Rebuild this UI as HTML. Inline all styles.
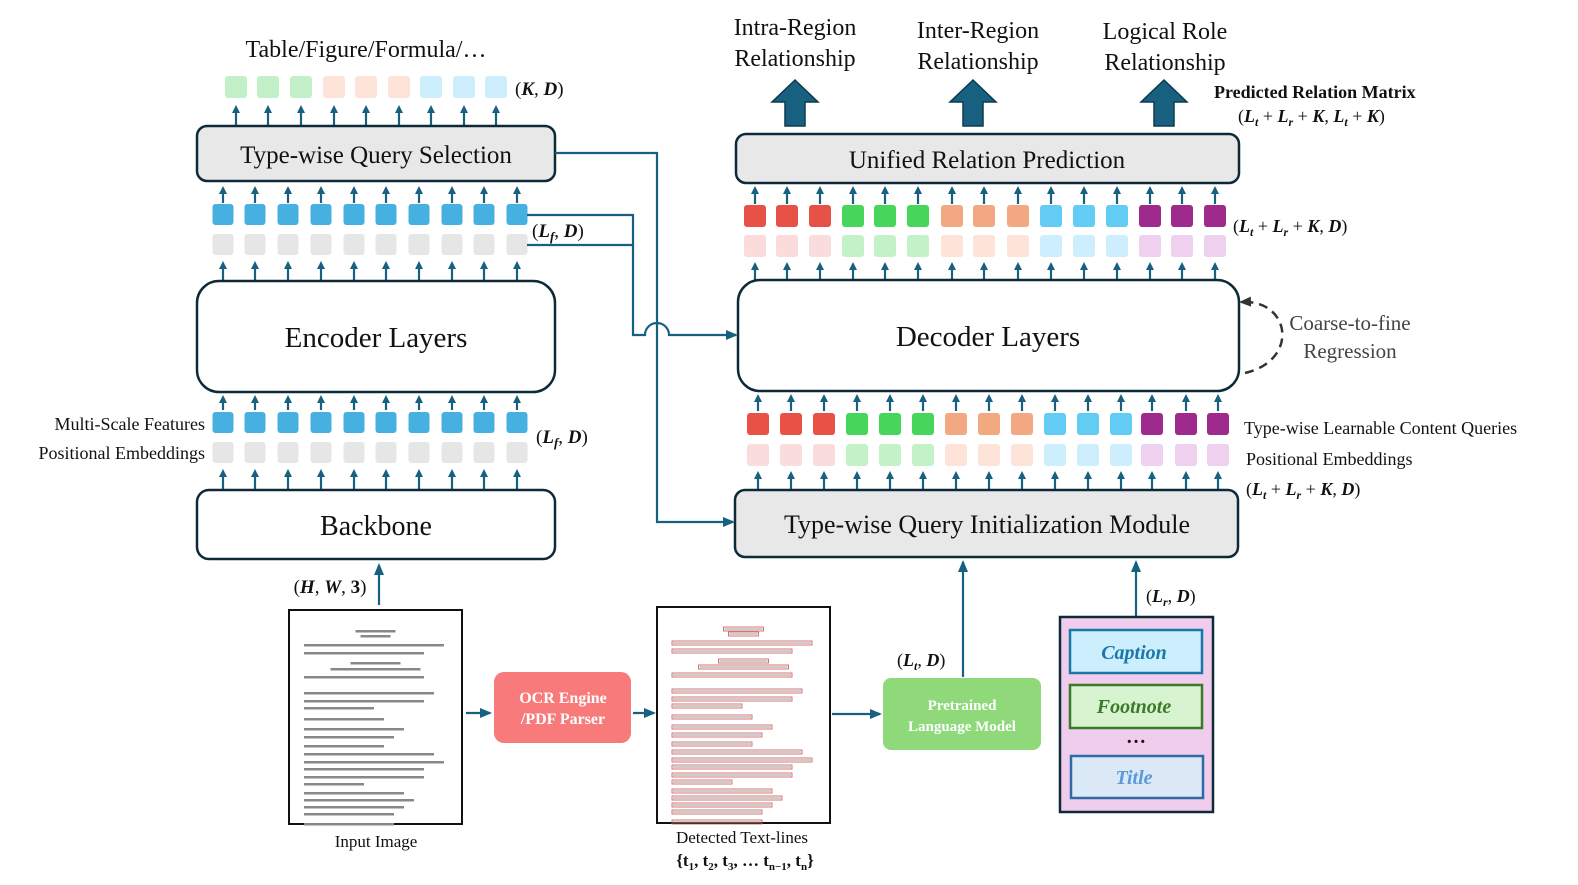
<!DOCTYPE html>
<html><head><meta charset="utf-8"><style>
body{margin:0;background:#fff}
svg{display:block}
text{font-family:"Liberation Serif",serif;fill:#111}
.m{font-weight:bold;font-style:italic}
</style></head><body>
<svg id="s" width="1578" height="885" viewBox="0 0 1578 885" xmlns="http://www.w3.org/2000/svg">
<defs>
<marker id="ah" markerWidth="8" markerHeight="8" refX="5" refY="4" orient="auto" markerUnits="userSpaceOnUse"><path d="M0,0 L8,4 L0,8 z" fill="#17607f"/></marker>
<marker id="ah2" markerWidth="12" markerHeight="10" refX="10" refY="5" orient="auto" markerUnits="userSpaceOnUse"><path d="M0,0 L12,5 L0,10 z" fill="#17607f"/></marker>
<marker id="ad" markerWidth="12" markerHeight="10" refX="8" refY="5" orient="auto" markerUnits="userSpaceOnUse"><path d="M0,0 L12,5 L0,10 z" fill="#333"/></marker>
</defs>
<g id="g"></g>
<!-- boxes -->
<rect x="197" y="126" width="358" height="55" rx="10" fill="#e8e8e8" stroke="#0e2a38" stroke-width="2.5"/>
<text x="376" y="163" font-size="25" text-anchor="middle">Type-wise Query Selection</text>
<rect x="197" y="281" width="358" height="111" rx="22" fill="#fff" stroke="#0e2a38" stroke-width="2.5"/>
<text x="376" y="347" font-size="29" text-anchor="middle">Encoder Layers</text>
<rect x="197" y="490" width="358" height="69" rx="12" fill="#fff" stroke="#0e2a38" stroke-width="2.5"/>
<text x="376" y="535" font-size="28" text-anchor="middle">Backbone</text>
<rect x="736" y="134" width="503" height="49" rx="10" fill="#e8e8e8" stroke="#0e2a38" stroke-width="2.5"/>
<text x="987" y="168" font-size="25" text-anchor="middle">Unified Relation Prediction</text>
<rect x="738" y="280" width="501" height="111" rx="22" fill="#fff" stroke="#0e2a38" stroke-width="2.5"/>
<text x="988" y="346" font-size="29" text-anchor="middle">Decoder Layers</text>
<rect x="735" y="490" width="503" height="67" rx="10" fill="#e8e8e8" stroke="#0e2a38" stroke-width="2.5"/>
<text x="987" y="533" font-size="26" text-anchor="middle">Type-wise Query Initialization Module</text>
<!-- text labels -->
<text x="366" y="57" font-size="24" text-anchor="middle">Table/Figure/Formula/…</text>
<text x="515" y="95" font-size="19"><tspan>(</tspan><tspan class="m">K</tspan>, <tspan class="m">D</tspan>)</text>
<text x="532" y="237" font-size="19">(<tspan class="m">L</tspan><tspan class="m" font-size="13" dy="4">f</tspan><tspan dy="-4">, </tspan><tspan class="m">D</tspan>)</text>
<text x="536" y="443" font-size="19">(<tspan class="m">L</tspan><tspan class="m" font-size="13" dy="4">f</tspan><tspan dy="-4">, </tspan><tspan class="m">D</tspan>)</text>
<text x="205" y="430" font-size="18" text-anchor="end">Multi-Scale Features</text>
<text x="205" y="459" font-size="18" text-anchor="end">Positional Embeddings</text>
<text x="1244" y="434" font-size="18">Type-wise Learnable Content Queries</text>
<text x="1246" y="465" font-size="18">Positional Embeddings</text>
<text x="1246" y="495" font-size="18">(<tspan class="m">L</tspan><tspan class="m" font-size="12" dy="4">t</tspan><tspan dy="-4"> + </tspan><tspan class="m">L</tspan><tspan class="m" font-size="12" dy="4">r</tspan><tspan dy="-4"> + </tspan><tspan class="m">K</tspan>, <tspan class="m">D</tspan>)</text>
<text x="1233" y="232" font-size="18">(<tspan class="m">L</tspan><tspan class="m" font-size="12" dy="4">t</tspan><tspan dy="-4"> + </tspan><tspan class="m">L</tspan><tspan class="m" font-size="12" dy="4">r</tspan><tspan dy="-4"> + </tspan><tspan class="m">K</tspan>, <tspan class="m">D</tspan>)</text>
<text x="1214" y="98" font-size="18" font-weight="bold">Predicted Relation Matrix</text>
<text x="1238" y="122" font-size="18">(<tspan class="m">L</tspan><tspan class="m" font-size="12" dy="4">t</tspan><tspan dy="-4"> + </tspan><tspan class="m">L</tspan><tspan class="m" font-size="12" dy="4">r</tspan><tspan dy="-4"> + </tspan><tspan class="m">K</tspan>, <tspan class="m">L</tspan><tspan class="m" font-size="12" dy="4">t</tspan><tspan dy="-4"> + </tspan><tspan class="m">K</tspan>)</text>
<text x="795" y="35" font-size="24" text-anchor="middle">Intra-Region</text>
<text x="795" y="66" font-size="24" text-anchor="middle">Relationship</text>
<text x="978" y="38" font-size="24" text-anchor="middle">Inter-Region</text>
<text x="978" y="69" font-size="24" text-anchor="middle">Relationship</text>
<text x="1165" y="39" font-size="24" text-anchor="middle">Logical Role</text>
<text x="1165" y="70" font-size="24" text-anchor="middle">Relationship</text>
<text x="1350" y="330" font-size="21" text-anchor="middle" fill="#444" style="fill:#444">Coarse-to-fine</text>
<text x="1350" y="358" font-size="21" text-anchor="middle" style="fill:#444">Regression</text>
<path d="M1245,373 C1300,360 1290,300 1243,302" fill="none" stroke="#333" stroke-width="2.5" stroke-dasharray="9,6" marker-end="url(#ad)"/>
<!-- big arrows -->
<g fill="#17607f" stroke="#0e3a4e" stroke-width="1.5">
<path d="M785,126 V102 H772 L795,80 L818,102 H805 V126 Z"/>
<path d="M963,126 V102 H950 L973,80 L996,102 H983 V126 Z"/>
<path d="M1154,126 V102 H1141 L1164,80 L1187,102 H1174 V126 Z"/>
</g>
<!-- connectors -->
<g fill="none" stroke="#17607f" stroke-width="2.2">
<path d="M555,153 H657 V522 H733" marker-end="url(#ah2)"/>
<path d="M527,215 H633 V335 H645 A12,12 0 0 1 669,335 H736" marker-end="url(#ah2)"/>
<path d="M527,245 H633"/>
<path d="M379,605 V565" marker-end="url(#ah2)"/>
<path d="M466,713 H490" marker-end="url(#ah2)"/>
<path d="M633,713 H654" marker-end="url(#ah2)"/>
<path d="M832,714 H880" marker-end="url(#ah2)"/>
<path d="M963,677 V562" marker-end="url(#ah2)"/>
<path d="M1136,617 V562" marker-end="url(#ah2)"/>
</g>
<text x="330" y="593" font-size="19" text-anchor="middle">(<tspan class="m">H</tspan>, <tspan class="m">W</tspan>, <tspan font-weight="bold">3</tspan>)</text>
<text x="897" y="666" font-size="18">(<tspan class="m">L</tspan><tspan class="m" font-size="12" dy="4">t</tspan><tspan dy="-4">, </tspan><tspan class="m">D</tspan>)</text>
<text x="1146" y="602" font-size="18">(<tspan class="m">L</tspan><tspan class="m" font-size="12" dy="4">r</tspan><tspan dy="-4">, </tspan><tspan class="m">D</tspan>)</text>
<!-- documents -->
<rect x="289" y="610" width="173" height="214" fill="#fff" stroke="#111" stroke-width="2"/>
<rect x="657" y="607" width="173" height="216" fill="#fff" stroke="#111" stroke-width="2"/>
<g id="docs"></g>
<text x="376" y="847" font-size="17" text-anchor="middle">Input Image</text>
<text x="742" y="843" font-size="17" text-anchor="middle">Detected Text-lines</text>
<text x="745" y="866" font-size="17" text-anchor="middle" font-weight="bold">{t<tspan font-size="11" dy="4">1</tspan><tspan dy="-4">, t</tspan><tspan font-size="11" dy="4">2</tspan><tspan dy="-4">, t</tspan><tspan font-size="11" dy="4">3</tspan><tspan dy="-4">, … t</tspan><tspan font-size="11" dy="4">n−1</tspan><tspan dy="-4">, t</tspan><tspan font-size="11" dy="4">n</tspan><tspan dy="-4">}</tspan></text>
<rect x="494" y="672" width="137" height="71" rx="10" fill="#f87a7a"/>
<text x="563" y="703" font-size="16" font-weight="bold" text-anchor="middle" style="fill:#fff">OCR Engine</text>
<text x="563" y="724" font-size="16" font-weight="bold" text-anchor="middle" style="fill:#fff">/PDF Parser</text>
<rect x="883" y="678" width="158" height="72" rx="8" fill="#8fd97a"/>
<text x="962" y="710" font-size="15" font-weight="bold" text-anchor="middle" style="fill:#fff">Pretrained</text>
<text x="962" y="731" font-size="15" font-weight="bold" text-anchor="middle" style="fill:#fff">Language Model</text>
<rect x="1060" y="617" width="153" height="195" fill="#f0cdec" stroke="#0e2a38" stroke-width="2.5"/>
<rect x="1070" y="630" width="132" height="43" fill="#cdeefc" stroke="#1a78a8" stroke-width="2.5"/>
<text x="1134" y="659" font-size="20" class="m" text-anchor="middle" style="fill:#1a78a8">Caption</text>
<rect x="1070" y="685" width="132" height="43" fill="#d7f3cf" stroke="#3a7a2a" stroke-width="2.5"/>
<text x="1134" y="713" font-size="20" class="m" text-anchor="middle" style="fill:#3a7a2a">Footnote</text>
<text x="1136" y="743" font-size="20" font-weight="bold" text-anchor="middle">…</text>
<rect x="1071" y="756" width="132" height="42" fill="#dbe8f6" stroke="#2e6aa8" stroke-width="2.5"/>
<text x="1134" y="784" font-size="20" class="m" text-anchor="middle" style="fill:#5a9ad8">Title</text>
</svg>
<script>
var g=document.getElementById('g'),NS='http://www.w3.org/2000/svg',h='';
function sq(x,y,w,c){h+='<rect x="'+(x-w/2)+'" y="'+y+'" width="'+w+'" height="'+w+'" rx="3" fill="'+c+'"/>';}
function ar(x,y1,y2){h+='<line x1="'+x+'" y1="'+y1+'" x2="'+x+'" y2="'+(y2+6)+'" stroke="#17607f" stroke-width="2.2" marker-end="url(#ah)"/>';}
var L=[223,255,288,321,354,386,419,452,484,517];
L.forEach(function(x){sq(x,204,21,'#46b0e0');sq(x,234,21,'#e6e6e6');ar(x,203,183);ar(x,281,258);
sq(x,412,21,'#46b0e0');sq(x,442,21,'#e6e6e6');ar(x,410,392);ar(x,490,466);});
var T=[236,268,301,334,366,399,431,464,496],tc=['#c3f0c8','#c3f0c8','#c3f0c8','#fde3d8','#fde3d8','#fde3d8','#cdeefc','#cdeefc','#cdeefc'];
T.forEach(function(x,i){sq(x,76,22,tc[i]);ar(x,126,102);});
var c1=['#e85246','#45d65b','#f2a982','#62ccf4','#9e2a8e'],c2=['#fbdcdc','#c4f2c8','#fde3d8','#cdeefc','#f0d0ef'];
var R=[755,787,820,853,885,918,952,984,1018,1051,1084,1117,1150,1182,1215];
R.forEach(function(x,i){var k=Math.floor(i/3);sq(x,205,22,c1[k]);sq(x,235,22,c2[k]);ar(x,204,183);ar(x,280,259);});
var D=[758,791,824,857,890,923,956,989,1022,1055,1088,1121,1152,1186,1218];
D.forEach(function(x,i){var k=Math.floor(i/3);sq(x,413,22,c1[k]);sq(x,444,22,c2[k]);ar(x,411,391);ar(x,490,468);});
var d='';
function lines(ox,oy,red){var ys=[20,25,34,42,52,58,66,82,90,97,108,118,126,135,143,151,158,166,173,182,189,196,203,213];
ys.forEach(function(y,i){var w=[40,30,140,120,50,90,120,130,120,70,80,100,90,80,130,140,120,120,60,100,110,100,90,90][i];var x=ox+(i<2||i==4||i==5?(173-w)/2:15);
d+='<rect x="'+x+'" y="'+(oy+y)+'" width="'+w+'" height="'+(red?4:2.5)+'" fill="'+(red?'none':'#888')+'" stroke="'+(red?'#d05050':'none')+'" stroke-width="0.8"/>';
if(red)d+='<rect x="'+(x+1)+'" y="'+(oy+y+1.5)+'" width="'+(w-2)+'" height="1" fill="#999"/>';});}
lines(289,610,false);lines(657,607,true);
document.getElementById('docs').innerHTML=d;
g.innerHTML=h;
</script>
</body></html>
